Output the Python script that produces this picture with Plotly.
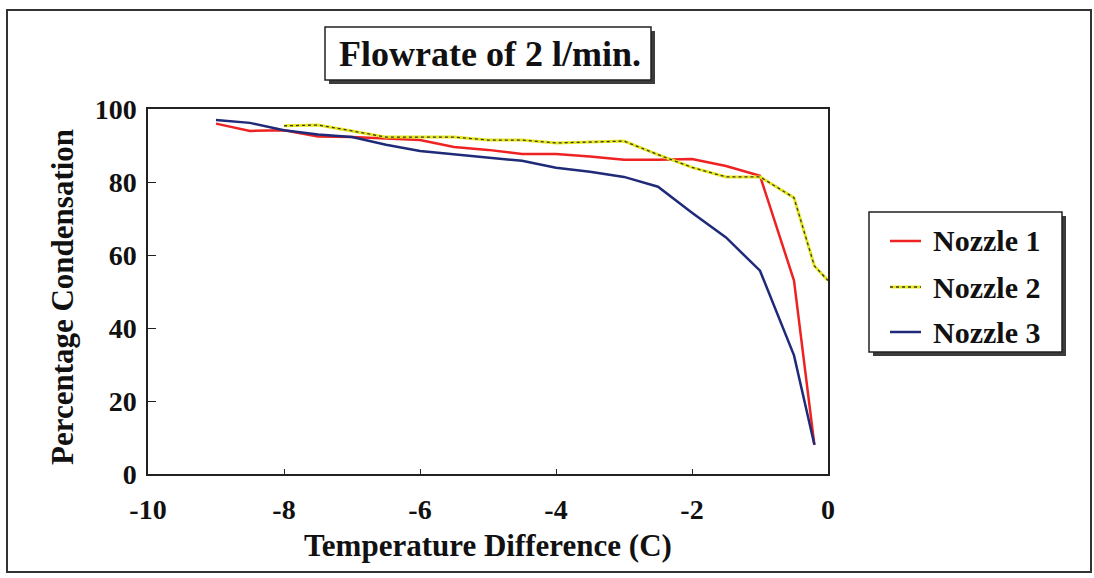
import plotly.graph_objects as go

# Temperature difference (C) and percentage condensation for each nozzle
temp_n1 = [-9, -8.5, -8, -7.5, -7, -6.5, -6, -5.5, -5, -4.5, -4, -3.5, -3, -2.5, -2, -1.5, -1, -0.5, -0.2]
cond_n1 = [96, 94, 94.2, 92.5, 92.3, 92, 91.5, 89.6, 88.8, 87.7, 87.7, 87, 86.1, 86.1, 86.3, 84.4, 81.7, 53, 8]

temp_n2 = [-8, -7.5, -7, -6.5, -6, -5.5, -5, -4.5, -4, -3.5, -3, -2.5, -2, -1.5, -1, -0.5, -0.2, 0]
cond_n2 = [95.4, 95.6, 94, 92.3, 92.3, 92.3, 91.5, 91.5, 90.7, 91, 91.2, 87.5, 84, 81.4, 81.4, 75.7, 57, 53]

temp_n3 = [-9, -8.5, -8, -7.5, -7, -6.5, -6, -5.5, -5, -4.5, -4, -3.5, -3, -2.5, -2, -1.5, -1, -0.5, -0.2]
cond_n3 = [97, 96.2, 94.2, 93, 92.3, 90.2, 88.5, 87.6, 86.6, 85.8, 83.9, 82.8, 81.4, 78.7, 71.6, 64.8, 55.7, 32.5, 8]

series_names = ["Nozzle 1", "Nozzle 2", "Nozzle 3"]
x_ticks = [-10, -8, -6, -4, -2, 0]
y_ticks = [0, 20, 40, 60, 80, 100]

RED = "#ee2222"
YELLOW = "#e6e61e"
DOTS = "#3a3a2a"
NAVY = "#1f2a78"
INK = "#222222"
FONT = "Liberation Serif"

W, H = 1094, 578
L, R, T, B = 148, 828, 109, 474


def px(x):
    return (x - L) / (R - L)


def py(y):
    return (B - y) / (B - T)


fig = go.Figure()
fig.add_trace(go.Scatter(x=temp_n1, y=cond_n1, mode="lines",
                         line=dict(color=RED, width=2.5), name=series_names[0]))
fig.add_trace(go.Scatter(x=temp_n2, y=cond_n2, mode="lines",
                         line=dict(color=YELLOW, width=3), name=series_names[1]))
fig.add_trace(go.Scatter(x=temp_n2, y=cond_n2, mode="lines",
                         line=dict(color=DOTS, width=1.3, dash="dot"), showlegend=False))
fig.add_trace(go.Scatter(x=temp_n3, y=cond_n3, mode="lines",
                         line=dict(color=NAVY, width=2.5), name=series_names[2]))

shapes = []
annotations = []

# outer frame
shapes.append(dict(type="rect", xref="paper", yref="paper",
                   x0=px(7), x1=px(1091), y0=py(572), y1=py(10),
                   line=dict(color="#333333", width=2), layer="below"))


def shadow_box(x0, y0, x1, y1, d=4):
    shapes.append(dict(type="rect", xref="paper", yref="paper",
                       x0=px(x0 + d), x1=px(x1 + d), y0=py(y1 + d), y1=py(y0 + d),
                       fillcolor="#3c3c3c", line=dict(width=0)))
    shapes.append(dict(type="rect", xref="paper", yref="paper",
                       x0=px(x0), x1=px(x1), y0=py(y1), y1=py(y0),
                       fillcolor="white", line=dict(color=INK, width=1.5)))


# title box
shadow_box(325, 27, 651, 80)
annotations.append(dict(xref="paper", yref="paper", x=px(490), y=py(54),
                        text="Flowrate of 2 l/min.", showarrow=False,
                        font=dict(family=FONT, size=36, color="#111111", weight="bold"),
                        xanchor="center", yanchor="middle"))

# legend box
shadow_box(869, 212, 1062, 352)
legend_rows = [(241, RED, None), (287, YELLOW, "dot"), (332, NAVY, None)]
for name, (yy, col, dash) in zip(series_names, legend_rows):
    shapes.append(dict(type="line", xref="paper", yref="paper",
                       x0=px(890), x1=px(921), y0=py(yy), y1=py(yy),
                       line=dict(color=col, width=2.5 if dash is None else 3)))
    if dash:
        shapes.append(dict(type="line", xref="paper", yref="paper",
                           x0=px(890), x1=px(921), y0=py(yy), y1=py(yy),
                           line=dict(color=DOTS, width=1.3, dash="dot")))
    annotations.append(dict(xref="paper", yref="paper", x=px(931), y=py(yy),
                            text=name, showarrow=False,
                            font=dict(family=FONT, size=30, color="#111111", weight="bold"),
                            xanchor="left", yanchor="middle"))

# axis titles
annotations.append(dict(xref="paper", yref="paper", x=px(488), y=py(545),
                        text="Temperature Difference (C)", showarrow=False,
                        font=dict(family=FONT, size=31, color="#111111", weight="bold"),
                        xanchor="center", yanchor="middle"))
annotations.append(dict(xref="paper", yref="paper", x=px(62), y=py(297),
                        text="Percentage Condensation", showarrow=False, textangle=-90,
                        font=dict(family=FONT, size=31, color="#111111", weight="bold"),
                        xanchor="center", yanchor="middle"))

tick_font = dict(family=FONT, size=28, color="#111111", weight="bold")
fig.update_layout(
    width=W, height=H,
    margin=dict(l=L, r=W - R, t=T, b=H - B, pad=0),
    paper_bgcolor="white", plot_bgcolor="white",
    showlegend=False,
    shapes=shapes, annotations=annotations,
    xaxis=dict(range=[-10, 0], tickvals=x_ticks, ticktext=[str(v) for v in x_ticks],
               showgrid=False, zeroline=False, showline=True, linecolor=INK, linewidth=1.5,
               mirror=True, ticks="inside", ticklen=5, tickwidth=1.2, tickcolor=INK,
               tickfont=tick_font, ticklabelstandoff=10),
    yaxis=dict(range=[0, 100], tickvals=y_ticks, ticktext=[str(v) for v in y_ticks],
               showgrid=False, zeroline=False, showline=True, linecolor=INK, linewidth=1.5,
               mirror=True, ticks="inside", ticklen=8, tickwidth=1.2, tickcolor=INK,
               tickfont=tick_font, ticklabelstandoff=4),
)

fig.write_html("out.html")
